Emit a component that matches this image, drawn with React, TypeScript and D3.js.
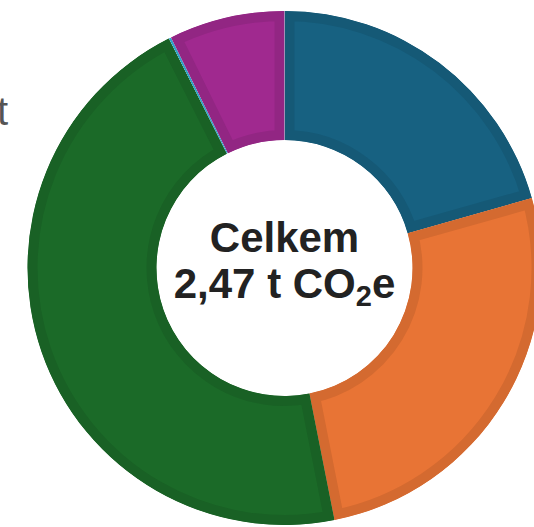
import React from "react";
import * as d3 from "d3";

const categories = ["Doprava", "Energie", "Jídlo", "Odpad", "Ostatní"];
const values = [0.51, 0.65, 1.13, 0.004, 0.18];
const colors = ["#176181", "#E87435", "#1B6A28", "#2FA3C9", "#A0298F"];
const totalLabel = ["Celkem", "2,47 t CO", "2", "e"];
const sideLabel = "Podíl kategorií v t";

const W = 534;
const H = 527;

export default function App() {
  const cx = 284.5;
  const cy = 268;
  const outerR = 257;
  const innerR = 128;
  const pie = d3
    .pie<number>()
    .sort(null)
    .value((d) => d)(values);
  const arc = d3.arc<d3.PieArcDatum<number>>().innerRadius(innerR).outerRadius(outerR);

  return (
    <svg
      width={W}
      height={H}
      style={{ position: "absolute", left: 0, top: 0, fontFamily: "Liberation Sans, Arial, sans-serif" }}
    >
      <defs>
        {pie.map((p, i) => (
          <clipPath id={`clip${i}`} key={i}>
            <path d={arc(p) || ""} />
          </clipPath>
        ))}
      </defs>
      <text x={8} y={125} textAnchor="end" fontSize={40} fill="#555">
        {sideLabel}
      </text>
      <g transform={`translate(${cx},${cy})`}>
        {pie.map((p, i) => {
          const dark = d3.color(colors[i])!.darker(0.25).formatHex();
          return (
            <path
              key={categories[i]}
              d={arc(p) || ""}
              fill={colors[i]}
              stroke={dark}
              strokeWidth={i === 3 ? 0 : 20}
              clipPath={`url(#clip${i})`}
            />
          );
        })}
        <text textAnchor="middle" fontWeight="bold" fill="#222" fontSize={42}>
          <tspan x={0} y={-16}>
            {totalLabel[0]}
          </tspan>
          <tspan x={0} y={30}>
            {totalLabel[1]}
          </tspan>
          <tspan fontSize={29} dy={8}>
            {totalLabel[2]}
          </tspan>
          <tspan dy={-8}>{totalLabel[3]}</tspan>
        </text>
      </g>
    </svg>
  );
}
